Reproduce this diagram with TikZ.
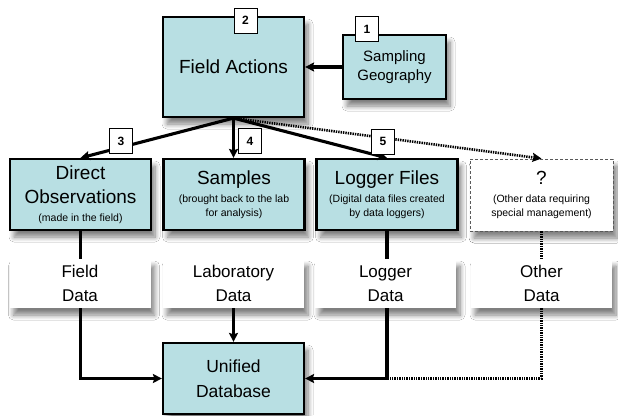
\documentclass[tikz,border=0pt]{standalone}
\usepackage{fontspec}
\setmainfont{Liberation Sans}
\usetikzlibrary{arrows.meta, calc, positioning, shadows.blur}
\definecolor{boxteal}{RGB}{184,223,227}
\newcommand{\smalltext}[1]{{\fontsize{10.5}{13}\selectfont #1}}

\tikzset{
  softshadow/.style={blur shadow={shadow xshift=4pt, shadow yshift=-7pt, shadow blur radius=5pt, shadow blur steps=8, shadow opacity=50}},
  mainbox/.style={draw, line width=2.2pt, fill=boxteal, align=center, minimum width=141pt, minimum height=71pt, inner sep=0pt, font=\fontsize{19}{24}\selectfont, softshadow},
  databox/.style={fill=white, align=center, minimum width=141pt, minimum height=49pt, inner sep=0pt, font=\fontsize{17}{24}\selectfont, softshadow},
  numtag/.style={draw, line width=0.7pt, fill=white, minimum width=23pt, minimum height=25pt, inner sep=0pt, font=\fontsize{12}{14}\selectfont\bfseries},
  link/.style={line width=3.1pt, ->},
  dotlink/.style={line width=2.6pt, dash pattern=on 1.4pt off 1pt}
}

\begin{document}
\begin{tikzpicture}[x=1pt, y=-1pt, >={Stealth[length=9pt, width=9pt, inset=1.5pt]}]
  \path[use as bounding box, fill=white] (0,0) rectangle (618,415);
  % boxes
  \node[mainbox, minimum height=100pt] (field) at (233.5,67) {Field Actions};
  \node[mainbox, minimum width=103pt, minimum height=64pt, font=\fontsize{15}{19}\selectfont] (geo) at (394.5,67) {Sampling\\Geography};
  \node[mainbox] (obs) at (80.5,194.5) {Direct\\Observations\\[-6pt]\smalltext{(made in the field)}};
  \node[mainbox] (samples) at (234,194.5) {Samples\\[-6pt]\smalltext{(brought back to the lab}\\[-10pt]\smalltext{for analysis)}};
  \node[mainbox] (logger) at (387,194.5) {Logger Files\\[-6pt]\smalltext{(Digital data files created}\\[-10pt]\smalltext{by data loggers)}};
  \node[mainbox, fill=white, draw=black!65, line width=0.9pt, dash pattern=on 3pt off 2pt, minimum width=143pt, minimum height=72pt, blur shadow={shadow xshift=4pt, shadow yshift=-7pt, shadow blur radius=5pt, shadow blur steps=8, shadow opacity=28}] (other) at (541.5,195) {?\\[-6pt]\smalltext{(Other data requiring}\\[-10pt]\smalltext{special management)}};
  \node[mainbox, font=\fontsize{17.5}{25}\selectfont] (unified) at (233.5,378.5) {Unified\\Database};

  % flows out of the field
  \draw[link] (geo.west) -- (field.east);
  \draw[link] (field.south) -- (obs.north);
  \draw[link] (field.south) -- (field.south |- samples.north);
  \draw[link] (field.south) -- (logger.north);
  \draw[dotlink, ->] (field.south) -- (other.north);

  % step numbers
  \node[numtag] (tag1) at ($(geo.north)+(-27.5,-5)$) {1};
  \node[numtag] (tag2) at ($(field.north)+(12,4.5)$) {2};
  \node[numtag] (tag3) at ($(obs.north)+(40.5,-17)$) {3};
  \node[numtag] (tag4) at ($(samples.north)+(16,-17)$) {4};
  \node[numtag] (tag5) at ($(logger.north)+(-4,-16.5)$) {5};

  % into the database
  \draw[link] (obs.south) |- (unified.west);
  \draw[link] (logger.south) |- (unified.east);
  \draw[dotlink] (other.south) |- (logger.south |- unified.east);

  \node[databox] (fielddata) at (80,283.5) {Field\\Data};
  \node[databox] (labdata) at (233.5,283.5) {Laboratory\\Data};
  \node[databox] (loggerdata) at (385.5,283.5) {Logger\\Data};
  \node[databox] (otherdata) at (541.5,283.5) {Other\\Data};

  \draw[link] (labdata.south) -- (unified.north);
\end{tikzpicture}
\end{document}
